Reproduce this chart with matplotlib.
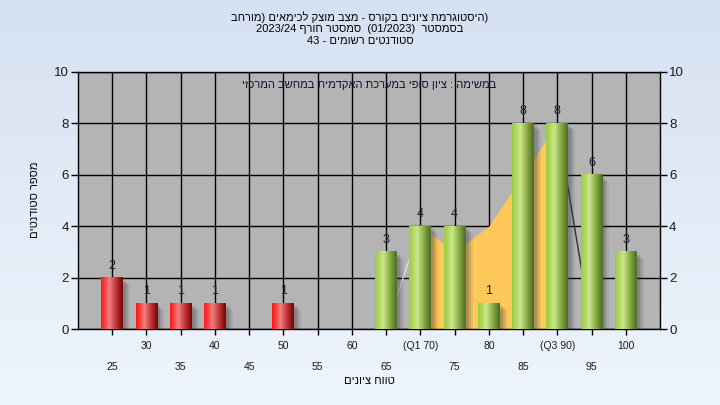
import re
import numpy as np
import matplotlib
matplotlib.use('Agg')
import matplotlib.pyplot as plt
from matplotlib.patches import Rectangle

# ---------------- data ----------------
categories = [25, 30, 35, 40, 45, 50, 55, 60, 65, 70, 75, 80, 85, 90, 95, 100]
counts = [2, 1, 1, 1, 0, 1, 0, 0, 3, 4, 4, 1, 8, 8, 6, 3]
tick_labels = ['25', '30', '35', '40', '45', '50', '55', '60', '65',
               '(Q1 70)', '75', '80', '85', '(Q3 90)', '95', '100']
curve_values = [0, 0, 0, 0, 0, 0, 0, 0, 0, 4, 3, 4, 6, 8, 0, 0]
pass_threshold = 65
q1_value = 70
q3_value = 90
y_ticks = [0, 2, 4, 6, 8, 10]

title_line1 = "היסטוגרמת ציונים בקורס - מצב מוצק לכימאים (מורחב"
title_line2 = "בסמסטר  (01/2023)  סמסטר חורף 2023/24"
title_line3 = "סטודנטים רשומים - 43"
subtitle = "במשימה : ציון סופי במערכת האקדמית במחשב המרכזי"
x_label = "טווח ציונים"
y_label = "מספר סטודנטים"

FONT = ['Liberation Sans', 'DejaVu Sans']
plt.rcParams['font.family'] = FONT

MIRROR = {'(': ')', ')': '(', '[': ']', ']': '['}


def rtl(s):
    """Convert a logical right-to-left string to visual left-to-right order."""
    parts = re.split(r'([0-9A-Za-z](?:[0-9A-Za-z/.]*[0-9A-Za-z])?)', s)
    out = []
    for k, p in enumerate(parts):
        if k % 2 == 1:
            out.append(p)
        else:
            out.append(''.join(MIRROR.get(c, c) for c in p[::-1]))
    return ''.join(out[::-1])


W, H = 720, 405
fig = plt.figure(figsize=(W / 100, H / 100), dpi=100)

# background gradient
bg = fig.add_axes([0, 0, 1, 1])
bg.set_axis_off()
top = np.array([0.835, 0.880, 0.945])
bot = np.array([0.937, 0.961, 0.992])
t = np.linspace(0, 1, 256)[:, None]
grad = top[None, :] * (1 - t) + bot[None, :] * t
bg.imshow(grad[:, None, :], aspect='auto', extent=[0, 1, 0, 1])
bg.set_xlim(0, 1)
bg.set_ylim(0, 1)

L, R, T, B = 78, 660, 72, 329
ax = fig.add_axes([L / W, 1 - B / H, (R - L) / W, (B - T) / H])
ax.set_facecolor('#B4B4B4')

x = np.arange(len(categories))
ax.set_xlim(-1, len(categories))
ax.set_ylim(0, 10)

# grid
ax.set_axisbelow(True)
ax.grid(True, which='major', axis='both', color='black', lw=1)
ax.set_yticks(y_ticks)

# quartile area and curve
i1 = categories.index(q1_value)
i3 = categories.index(q3_value)
cv = np.array(curve_values, dtype=float)
ax.fill_between(x[i1:i3 + 1], cv[i1:i3 + 1], 0, color='#FFC85A', lw=0, zorder=2)
ax.plot(x[i1 - 1:i1 + 1], cv[i1 - 1:i1 + 1], color='#DCDCDC', lw=1, zorder=2.2)
ax.plot(x[i3:i3 + 2], cv[i3:i3 + 2], color='#303030', lw=1, zorder=2.2)

# bars
bw = 0.64
px_x = 1 / 34.2
px_y = 10 / 257.0


def gradient_colors(stops, n=48):
    pos = np.array([s[0] for s in stops])
    cols = np.array([s[1] for s in stops])
    u = np.linspace(0, 1, n)
    return np.stack([np.interp(u, pos, cols[:, c]) for c in range(3)], axis=-1)


red_grad = gradient_colors([(0.0, (1.0, 0.10, 0.10)), (0.12, (0.98, 0.20, 0.20)),
                            (0.38, (0.93, 0.50, 0.50)), (0.7, (0.75, 0.20, 0.20)),
                            (1.0, (0.45, 0.02, 0.02))])
green_grad = gradient_colors([(0.0, (0.60, 0.80, 0.26)), (0.12, (0.66, 0.83, 0.32)),
                              (0.38, (0.80, 0.90, 0.56)), (0.7, (0.52, 0.66, 0.26)),
                              (1.0, (0.30, 0.42, 0.15))])

for i, (c, h) in enumerate(zip(categories, counts)):
    if h <= 0:
        continue
    # shadow
    for k, a in ((7, 0.10), (5, 0.16), (3, 0.22)):
        ax.add_patch(Rectangle((i - bw / 2 + k * px_x, 0), bw, h - k * px_y,
                               facecolor='#404040', edgecolor='none', alpha=a, zorder=2.5))
    g = red_grad if c < pass_threshold else green_grad
    ax.imshow(g[None, :, :], aspect='auto', extent=[i - bw / 2, i + bw / 2, 0, h],
              zorder=3, interpolation='bilinear')
    ax.text(i, h + 0.47, str(h), ha='center', va='center', fontsize=9,
            color='#1c1c30', zorder=4)

ax.set_xlim(-1, len(categories))
ax.set_ylim(0, 10)

# x ticks in two rows
upper = [i for i in x if i % 2 == 1]
lower = [i for i in x if i % 2 == 0]
ax.set_xticks(upper)
ax.set_xticklabels([tick_labels[i] for i in upper])
ax.set_xticks(lower, minor=True)
ax.set_xticklabels([tick_labels[i] for i in lower], minor=True)
ax.tick_params(axis='x', which='major', length=4, width=1, pad=4.5,
               labelsize=7.5, colors='black')
ax.tick_params(axis='x', which='minor', length=4, width=1, pad=19.5,
               labelsize=7.5, colors='black')
ax.xaxis.grid(True, which='minor', color='black', lw=1)
ax.tick_params(axis='y', which='major', length=5, width=1, pad=1.5, labelsize=9.5,
               left=True, right=True, labelleft=True, labelright=True, colors='black')
for lab in ax.get_xticklabels(which='both') + ax.get_yticklabels():
    lab.set_color('#1a1a1a')
for lab in ax.yaxis.get_ticklabels(which='both'):
    lab.set_color('#1a1a1a')

for s in ax.spines.values():
    s.set_color('black')
    s.set_linewidth(1)

# texts
fig.text(0.5, 1 - 17 / H, rtl(title_line1) + ')', ha='center', va='center', fontsize=8, color='black')
fig.text(0.5, 1 - 29 / H, rtl(title_line2), ha='center', va='center', fontsize=8, color='black')
fig.text(0.5, 1 - 41 / H, rtl(title_line3), ha='center', va='center', fontsize=8, color='black')
ax.text(0.5, 1 - 13 / (B - T), rtl(subtitle), transform=ax.transAxes, ha='center',
        va='center', fontsize=8, color='#101030', zorder=5)
fig.text((L + R) / 2 / W, 1 - 381 / H, rtl(x_label), ha='center', va='center',
         fontsize=8, color='black')
fig.text(35 / W, 1 - 200 / H, rtl(y_label), ha='center', va='center', rotation=90,
         fontsize=8, color='black')

fig.savefig('out.png', dpi=100)
